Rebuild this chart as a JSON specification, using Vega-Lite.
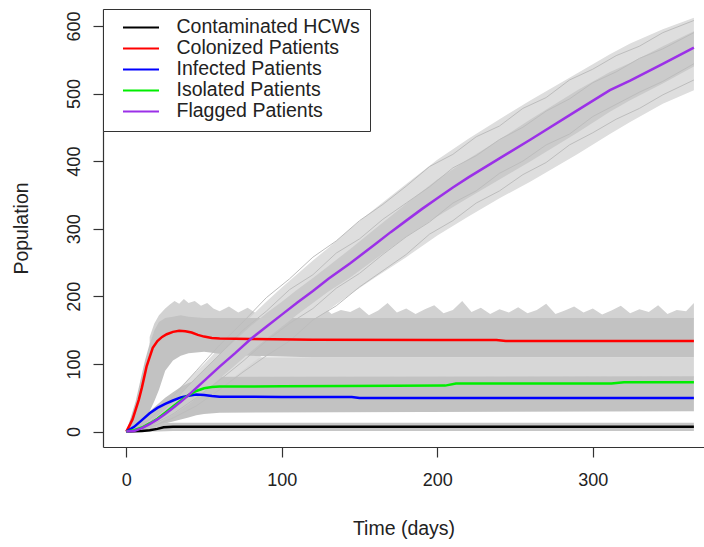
{
"$schema":"https://vega.github.io/schema/vega-lite/v6.json",
"width":601,"height":438,
"autosize":{"type":"none"},
"padding":{"left":103,"top":9,"right":0,"bottom":100},
"background":"white",
"config":{
 "font":"Liberation Sans",
 "view":{"stroke":null},
 "axis":{"grid":false,"domain":true,"domainColor":"#333","domainWidth":1.2,"tickColor":"#333","tickWidth":1.2,"tickSize":10,"labelFont":"Liberation Sans","labelFontSize":18,"labelColor":"#222","titleFont":"Liberation Sans","titleFontSize":19.5,"titleFontWeight":"normal","titleColor":"#222"},
 "axisX":{"labelPadding":14,"titlePadding":30},
 "axisY":{"labelAngle":-90,"labelAlign":"center","labelBaseline":"bottom","labelPadding":10,"titlePadding":34}
},
"datasets":{
"bands":[
{"b":"mid","t":50,"lo":80,"hi":84},{"b":"mid","t":60,"lo":80,"hi":104},{"b":"mid","t":70,"lo":80,"hi":110},{"b":"mid","t":365,"lo":80,"hi":110},
{"b":"colOuter","t":15,"lo":128,"hi":140},{"b":"colOuter","t":18,"lo":148,"hi":160},{"b":"colOuter","t":21,"lo":160,"hi":172},{"b":"colOuter","t":25,"lo":166,"hi":182},{"b":"colOuter","t":28,"lo":166,"hi":188},{"b":"colOuter","t":31,"lo":166,"hi":193},{"b":"colOuter","t":34,"lo":166,"hi":189},{"b":"colOuter","t":37,"lo":166,"hi":196},{"b":"colOuter","t":40,"lo":166,"hi":190},{"b":"colOuter","t":44,"lo":166,"hi":193},{"b":"colOuter","t":48,"lo":166,"hi":186},{"b":"colOuter","t":52,"lo":166,"hi":190},{"b":"colOuter","t":56,"lo":166,"hi":182},
{"b":"colOuter","t":60,"lo":166,"hi":178},{"b":"colOuter","t":66,"lo":166,"hi":185},{"b":"colOuter","t":72,"lo":166,"hi":176},{"b":"colOuter","t":78,"lo":166,"hi":183},{"b":"colOuter","t":84,"lo":166,"hi":174},{"b":"colOuter","t":90,"lo":166,"hi":180},{"b":"colOuter","t":96,"lo":166,"hi":188},{"b":"colOuter","t":102,"lo":166,"hi":175},{"b":"colOuter","t":108,"lo":166,"hi":181},{"b":"colOuter","t":114,"lo":166,"hi":173},{"b":"colOuter","t":120,"lo":166,"hi":179},{"b":"colOuter","t":126,"lo":166,"hi":186},{"b":"colOuter","t":132,"lo":166,"hi":174},{"b":"colOuter","t":138,"lo":166,"hi":180},{"b":"colOuter","t":144,"lo":166,"hi":177},{"b":"colOuter","t":150,"lo":166,"hi":184},{"b":"colOuter","t":156,"lo":166,"hi":172},{"b":"colOuter","t":162,"lo":166,"hi":179},{"b":"colOuter","t":168,"lo":166,"hi":190},{"b":"colOuter","t":174,"lo":166,"hi":176},{"b":"colOuter","t":180,"lo":166,"hi":182},{"b":"colOuter","t":186,"lo":166,"hi":174},{"b":"colOuter","t":192,"lo":166,"hi":181},{"b":"colOuter","t":198,"lo":166,"hi":187},{"b":"colOuter","t":204,"lo":166,"hi":175},{"b":"colOuter","t":210,"lo":166,"hi":180},{"b":"colOuter","t":216,"lo":166,"hi":193},{"b":"colOuter","t":222,"lo":166,"hi":177},{"b":"colOuter","t":228,"lo":166,"hi":183},{"b":"colOuter","t":234,"lo":166,"hi":174},{"b":"colOuter","t":240,"lo":166,"hi":181},{"b":"colOuter","t":246,"lo":166,"hi":176},{"b":"colOuter","t":252,"lo":166,"hi":184},{"b":"colOuter","t":258,"lo":166,"hi":175},{"b":"colOuter","t":264,"lo":166,"hi":180},{"b":"colOuter","t":270,"lo":166,"hi":189},{"b":"colOuter","t":276,"lo":166,"hi":174},{"b":"colOuter","t":282,"lo":166,"hi":179},{"b":"colOuter","t":288,"lo":166,"hi":185},{"b":"colOuter","t":294,"lo":166,"hi":176},{"b":"colOuter","t":300,"lo":166,"hi":182},{"b":"colOuter","t":306,"lo":166,"hi":173},{"b":"colOuter","t":312,"lo":166,"hi":179},{"b":"colOuter","t":318,"lo":166,"hi":186},{"b":"colOuter","t":324,"lo":166,"hi":175},{"b":"colOuter","t":330,"lo":166,"hi":181},{"b":"colOuter","t":336,"lo":166,"hi":177},{"b":"colOuter","t":342,"lo":166,"hi":187},{"b":"colOuter","t":348,"lo":166,"hi":174},{"b":"colOuter","t":354,"lo":166,"hi":180},{"b":"colOuter","t":360,"lo":166,"hi":178},{"b":"colOuter","t":365,"lo":166,"hi":190},
{"b":"flagOuter","t":0,"lo":0,"hi":0},{"b":"flagOuter","t":10,"lo":1,"hi":12},{"b":"flagOuter","t":20,"lo":8,"hi":32},{"b":"flagOuter","t":30,"lo":18,"hi":55},{"b":"flagOuter","t":40,"lo":28,"hi":78},{"b":"flagOuter","t":50,"lo":45,"hi":100},{"b":"flagOuter","t":60,"lo":63,"hi":124},{"b":"flagOuter","t":70,"lo":82,"hi":148},{"b":"flagOuter","t":80,"lo":100,"hi":170},{"b":"flagOuter","t":90,"lo":117,"hi":192},{"b":"flagOuter","t":100,"lo":133,"hi":213},{"b":"flagOuter","t":110,"lo":150,"hi":233},{"b":"flagOuter","t":120,"lo":165,"hi":253},{"b":"flagOuter","t":130,"lo":180,"hi":272},{"b":"flagOuter","t":144,"lo":203,"hi":300},{"b":"flagOuter","t":160,"lo":228,"hi":330},{"b":"flagOuter","t":180,"lo":258,"hi":366},{"b":"flagOuter","t":200,"lo":290,"hi":402},{"b":"flagOuter","t":220,"lo":318,"hi":433},{"b":"flagOuter","t":240,"lo":345,"hi":462},{"b":"flagOuter","t":260,"lo":370,"hi":490},{"b":"flagOuter","t":290,"lo":410,"hi":530},{"b":"flagOuter","t":311,"lo":440,"hi":558},{"b":"flagOuter","t":324,"lo":458,"hi":574},{"b":"flagOuter","t":345,"lo":485,"hi":595},{"b":"flagOuter","t":365,"lo":505,"hi":612},
{"b":"colCore","t":0,"lo":0,"hi":0},{"b":"colCore","t":3,"lo":1,"hi":22},{"b":"colCore","t":6,"lo":4,"hi":45},{"b":"colCore","t":9,"lo":10,"hi":75},{"b":"colCore","t":12,"lo":18,"hi":105},{"b":"colCore","t":15,"lo":30,"hi":130},{"b":"colCore","t":18,"lo":45,"hi":150},{"b":"colCore","t":21,"lo":62,"hi":162},{"b":"colCore","t":25,"lo":90,"hi":168},{"b":"colCore","t":30,"lo":105,"hi":170},{"b":"colCore","t":35,"lo":112,"hi":172},{"b":"colCore","t":40,"lo":116,"hi":170},{"b":"colCore","t":50,"lo":118,"hi":168},{"b":"colCore","t":60,"lo":115,"hi":168},{"b":"colCore","t":80,"lo":112,"hi":168},{"b":"colCore","t":120,"lo":110,"hi":168},{"b":"colCore","t":365,"lo":110,"hi":168},
{"b":"inf","t":0,"lo":0,"hi":0},{"b":"inf","t":5,"lo":1,"hi":10},{"b":"inf","t":10,"lo":3,"hi":20},{"b":"inf","t":15,"lo":6,"hi":30},{"b":"inf","t":20,"lo":9,"hi":40},{"b":"inf","t":25,"lo":12,"hi":50},{"b":"inf","t":30,"lo":15,"hi":58},{"b":"inf","t":35,"lo":18,"hi":66},{"b":"inf","t":40,"lo":21,"hi":72},{"b":"inf","t":45,"lo":24,"hi":76},{"b":"inf","t":50,"lo":26,"hi":79},{"b":"inf","t":60,"lo":28,"hi":81},{"b":"inf","t":365,"lo":30,"hi":82},
{"b":"hcw","t":0,"lo":0,"hi":0},{"b":"hcw","t":10,"lo":0,"hi":8},{"b":"hcw","t":20,"lo":0,"hi":12},{"b":"hcw","t":30,"lo":1,"hi":13},{"b":"hcw","t":365,"lo":1,"hi":13},
{"b":"flagInner","t":0,"lo":0,"hi":0},{"b":"flagInner","t":10,"lo":3,"hi":8},{"b":"flagInner","t":20,"lo":12,"hi":25},{"b":"flagInner","t":30,"lo":25,"hi":45},{"b":"flagInner","t":40,"lo":40,"hi":68},{"b":"flagInner","t":50,"lo":58,"hi":92},{"b":"flagInner","t":60,"lo":78,"hi":114},{"b":"flagInner","t":70,"lo":98,"hi":135},{"b":"flagInner","t":80,"lo":118,"hi":156},{"b":"flagInner","t":90,"lo":137,"hi":175},{"b":"flagInner","t":100,"lo":155,"hi":192},{"b":"flagInner","t":110,"lo":173,"hi":210},{"b":"flagInner","t":120,"lo":190,"hi":227},{"b":"flagInner","t":130,"lo":207,"hi":245},{"b":"flagInner","t":144,"lo":228,"hi":270},{"b":"flagInner","t":160,"lo":255,"hi":300},{"b":"flagInner","t":180,"lo":288,"hi":337},{"b":"flagInner","t":200,"lo":318,"hi":373},{"b":"flagInner","t":220,"lo":346,"hi":403},{"b":"flagInner","t":240,"lo":373,"hi":432},{"b":"flagInner","t":260,"lo":400,"hi":462},{"b":"flagInner","t":290,"lo":442,"hi":505},{"b":"flagInner","t":311,"lo":473,"hi":532},{"b":"flagInner","t":324,"lo":490,"hi":545},{"b":"flagInner","t":345,"lo":515,"hi":570},{"b":"flagInner","t":365,"lo":540,"hi":592}
],
"runs":[
{"r":"U1","t":0,"v":0},{"r":"U1","t":15,"v":18},{"r":"U1","t":30,"v":52},{"r":"U1","t":45,"v":90},{"r":"U1","t":60,"v":128},{"r":"U1","t":75,"v":162},{"r":"U1","t":90,"v":198},{"r":"U1","t":105,"v":226},{"r":"U1","t":120,"v":258},{"r":"U1","t":135,"v":282},{"r":"U1","t":150,"v":312},{"r":"U1","t":165,"v":336},{"r":"U1","t":180,"v":363},{"r":"U1","t":195,"v":392},{"r":"U1","t":210,"v":410},{"r":"U1","t":225,"v":436},{"r":"U1","t":240,"v":452},{"r":"U1","t":255,"v":478},{"r":"U1","t":270,"v":494},{"r":"U1","t":285,"v":520},{"r":"U1","t":300,"v":536},{"r":"U1","t":315,"v":556},{"r":"U1","t":330,"v":570},{"r":"U1","t":345,"v":590},{"r":"U1","t":365,"v":608},
{"r":"U2","t":0,"v":0},{"r":"U2","t":15,"v":14},{"r":"U2","t":30,"v":44},{"r":"U2","t":45,"v":80},{"r":"U2","t":60,"v":114},{"r":"U2","t":75,"v":150},{"r":"U2","t":90,"v":178},{"r":"U2","t":105,"v":210},{"r":"U2","t":120,"v":232},{"r":"U2","t":135,"v":264},{"r":"U2","t":150,"v":285},{"r":"U2","t":165,"v":314},{"r":"U2","t":180,"v":338},{"r":"U2","t":195,"v":362},{"r":"U2","t":210,"v":390},{"r":"U2","t":225,"v":408},{"r":"U2","t":240,"v":432},{"r":"U2","t":255,"v":450},{"r":"U2","t":270,"v":474},{"r":"U2","t":285,"v":492},{"r":"U2","t":300,"v":516},{"r":"U2","t":315,"v":532},{"r":"U2","t":330,"v":552},{"r":"U2","t":345,"v":566},{"r":"U2","t":365,"v":590},
{"r":"L1","t":0,"v":0},{"r":"L1","t":15,"v":6},{"r":"L1","t":30,"v":20},{"r":"L1","t":45,"v":38},{"r":"L1","t":60,"v":62},{"r":"L1","t":75,"v":88},{"r":"L1","t":90,"v":112},{"r":"L1","t":105,"v":134},{"r":"L1","t":120,"v":165},{"r":"L1","t":135,"v":186},{"r":"L1","t":150,"v":214},{"r":"L1","t":165,"v":238},{"r":"L1","t":180,"v":262},{"r":"L1","t":195,"v":292},{"r":"L1","t":210,"v":312},{"r":"L1","t":225,"v":338},{"r":"L1","t":240,"v":356},{"r":"L1","t":255,"v":380},{"r":"L1","t":270,"v":398},{"r":"L1","t":285,"v":424},{"r":"L1","t":300,"v":442},{"r":"L1","t":315,"v":462},{"r":"L1","t":330,"v":478},{"r":"L1","t":345,"v":498},{"r":"L1","t":365,"v":520},
{"r":"L2","t":0,"v":0},{"r":"L2","t":15,"v":8},{"r":"L2","t":30,"v":26},{"r":"L2","t":45,"v":50},{"r":"L2","t":60,"v":76},{"r":"L2","t":75,"v":104},{"r":"L2","t":90,"v":134},{"r":"L2","t":105,"v":160},{"r":"L2","t":120,"v":182},{"r":"L2","t":135,"v":212},{"r":"L2","t":150,"v":234},{"r":"L2","t":165,"v":262},{"r":"L2","t":180,"v":288},{"r":"L2","t":195,"v":310},{"r":"L2","t":210,"v":338},{"r":"L2","t":225,"v":356},{"r":"L2","t":240,"v":382},{"r":"L2","t":255,"v":400},{"r":"L2","t":270,"v":424},{"r":"L2","t":285,"v":440},{"r":"L2","t":300,"v":466},{"r":"L2","t":315,"v":484},{"r":"L2","t":330,"v":502},{"r":"L2","t":345,"v":518},{"r":"L2","t":365,"v":544}
],
"means":[
{"s":"Contaminated HCWs","t":0,"v":0},{"s":"Contaminated HCWs","t":10,"v":1},{"s":"Contaminated HCWs","t":15,"v":2},{"s":"Contaminated HCWs","t":20,"v":4},{"s":"Contaminated HCWs","t":24,"v":6.5},{"s":"Contaminated HCWs","t":30,"v":7},{"s":"Contaminated HCWs","t":100,"v":7},{"s":"Contaminated HCWs","t":200,"v":7},{"s":"Contaminated HCWs","t":365,"v":7},
{"s":"Colonized Patients","t":0,"v":0},{"s":"Colonized Patients","t":4,"v":18},{"s":"Colonized Patients","t":8,"v":47},{"s":"Colonized Patients","t":10,"v":65},{"s":"Colonized Patients","t":13,"v":96},{"s":"Colonized Patients","t":15,"v":110},{"s":"Colonized Patients","t":17,"v":124},{"s":"Colonized Patients","t":20,"v":134},{"s":"Colonized Patients","t":23,"v":140},{"s":"Colonized Patients","t":26,"v":144},{"s":"Colonized Patients","t":30,"v":147.5},{"s":"Colonized Patients","t":34,"v":149},{"s":"Colonized Patients","t":38,"v":148.5},{"s":"Colonized Patients","t":42,"v":146.5},{"s":"Colonized Patients","t":46,"v":143},{"s":"Colonized Patients","t":50,"v":140.5},{"s":"Colonized Patients","t":55,"v":138.5},{"s":"Colonized Patients","t":60,"v":137.5},{"s":"Colonized Patients","t":80,"v":137},{"s":"Colonized Patients","t":120,"v":136},{"s":"Colonized Patients","t":200,"v":135.5},{"s":"Colonized Patients","t":238,"v":135.5},{"s":"Colonized Patients","t":244,"v":134},{"s":"Colonized Patients","t":365,"v":134},
{"s":"Infected Patients","t":0,"v":0},{"s":"Infected Patients","t":5,"v":7},{"s":"Infected Patients","t":10,"v":17},{"s":"Infected Patients","t":15,"v":27},{"s":"Infected Patients","t":20,"v":35},{"s":"Infected Patients","t":25,"v":41},{"s":"Infected Patients","t":30,"v":46},{"s":"Infected Patients","t":35,"v":50.5},{"s":"Infected Patients","t":40,"v":53},{"s":"Infected Patients","t":45,"v":54.7},{"s":"Infected Patients","t":50,"v":54},{"s":"Infected Patients","t":55,"v":52.5},{"s":"Infected Patients","t":60,"v":51.5},{"s":"Infected Patients","t":100,"v":51.3},{"s":"Infected Patients","t":145,"v":51},{"s":"Infected Patients","t":150,"v":49.7},{"s":"Infected Patients","t":365,"v":49.7},
{"s":"Isolated Patients","t":0,"v":0},{"s":"Isolated Patients","t":5,"v":2},{"s":"Isolated Patients","t":10,"v":6},{"s":"Isolated Patients","t":15,"v":12},{"s":"Isolated Patients","t":20,"v":19},{"s":"Isolated Patients","t":25,"v":28},{"s":"Isolated Patients","t":30,"v":37},{"s":"Isolated Patients","t":35,"v":46},{"s":"Isolated Patients","t":40,"v":54},{"s":"Isolated Patients","t":45,"v":60},{"s":"Isolated Patients","t":50,"v":64},{"s":"Isolated Patients","t":55,"v":66},{"s":"Isolated Patients","t":60,"v":66.5},{"s":"Isolated Patients","t":100,"v":67},{"s":"Isolated Patients","t":140,"v":67.5},{"s":"Isolated Patients","t":205,"v":68},{"s":"Isolated Patients","t":212,"v":71},{"s":"Isolated Patients","t":312,"v":71},{"s":"Isolated Patients","t":320,"v":73},{"s":"Isolated Patients","t":365,"v":73},
{"s":"Flagged Patients","t":0,"v":0},{"s":"Flagged Patients","t":5,"v":1},{"s":"Flagged Patients","t":10,"v":5},{"s":"Flagged Patients","t":15,"v":11},{"s":"Flagged Patients","t":20,"v":18},{"s":"Flagged Patients","t":25,"v":26},{"s":"Flagged Patients","t":30,"v":35},{"s":"Flagged Patients","t":35,"v":44},{"s":"Flagged Patients","t":40,"v":54},{"s":"Flagged Patients","t":50,"v":75},{"s":"Flagged Patients","t":60,"v":96},{"s":"Flagged Patients","t":70,"v":116},{"s":"Flagged Patients","t":80,"v":137},{"s":"Flagged Patients","t":90,"v":155},{"s":"Flagged Patients","t":100,"v":173},{"s":"Flagged Patients","t":110,"v":191},{"s":"Flagged Patients","t":120,"v":208},{"s":"Flagged Patients","t":130,"v":226},{"s":"Flagged Patients","t":144,"v":249},{"s":"Flagged Patients","t":160,"v":277},{"s":"Flagged Patients","t":170,"v":295},{"s":"Flagged Patients","t":180,"v":312},{"s":"Flagged Patients","t":190,"v":329},{"s":"Flagged Patients","t":200,"v":345},{"s":"Flagged Patients","t":210,"v":361},{"s":"Flagged Patients","t":220,"v":376},{"s":"Flagged Patients","t":240,"v":404},{"s":"Flagged Patients","t":260,"v":432},{"s":"Flagged Patients","t":290,"v":475},{"s":"Flagged Patients","t":311,"v":505},{"s":"Flagged Patients","t":324,"v":519},{"s":"Flagged Patients","t":345,"v":544},{"s":"Flagged Patients","t":365,"v":568}
]},
"encoding":{
 "x":{"field":"t","type":"quantitative","scale":{"domain":[-15,371.5],"nice":false,"zero":false},"axis":{"values":[0,100,200,300],"title":"Time (days)"}},
 "y":{"field":"lo","type":"quantitative","scale":{"domain":[-22.8,625],"nice":false,"zero":false},"axis":{"values":[0,100,200,300,400,500,600],"title":"Population"}}
},
"layer":[
 {"data":{"name":"bands"},"transform":[{"filter":"datum.b==='mid'"}],"mark":{"type":"area","color":"#d7d7d7","clip":true},"encoding":{"y2":{"field":"hi"}}},
 {"data":{"name":"bands"},"transform":[{"filter":"datum.b==='colOuter'"}],"mark":{"type":"area","color":"#d2d2d2","clip":true},"encoding":{"y2":{"field":"hi"}}},
 {"data":{"name":"bands"},"transform":[{"filter":"datum.b==='flagOuter'"}],"mark":{"type":"area","color":"#dedede","clip":true},"encoding":{"y2":{"field":"hi"}}},
 {"data":{"name":"bands"},"transform":[{"filter":"datum.b==='colCore'"}],"mark":{"type":"area","color":"#c2c2c2","clip":true},"encoding":{"y2":{"field":"hi"}}},
 {"data":{"name":"bands"},"transform":[{"filter":"datum.b==='inf'"}],"mark":{"type":"area","color":"#c2c2c2","clip":true},"encoding":{"y2":{"field":"hi"}}},
 {"data":{"name":"bands"},"transform":[{"filter":"datum.b==='hcw'"}],"mark":{"type":"area","color":"#c6c6c6","clip":true},"encoding":{"y2":{"field":"hi"}}},
 {"data":{"name":"bands"},"transform":[{"filter":"datum.b==='flagInner'"}],"mark":{"type":"area","color":"#cbcbcb","clip":true},"encoding":{"y2":{"field":"hi"}}},
 {"data":{"name":"runs"},"mark":{"type":"line","color":"#bdbdbd","strokeWidth":1,"clip":true},
  "encoding":{"y":{"field":"v","type":"quantitative","scale":{"domain":[-22.8,625],"nice":false,"zero":false},"axis":{"values":[0,100,200,300,400,500,600],"title":"Population"}},"detail":{"field":"r"}}},
 {"data":{"name":"means"},"mark":{"type":"line","strokeWidth":2.5,"clip":true},
  "encoding":{
   "y":{"field":"v","type":"quantitative","scale":{"domain":[-22.8,625],"nice":false,"zero":false},"axis":{"values":[0,100,200,300,400,500,600],"title":"Population"}},
   "stroke":{"field":"s","type":"nominal","sort":null,
     "scale":{"domain":["Contaminated HCWs","Colonized Patients","Infected Patients","Isolated Patients","Flagged Patients"],"range":["#000000","#ff0000","#0000ff","#00ee00","#9b30e8"]},
     "legend":{"title":null,"orient":"none","legendX":0,"legendY":0,"symbolType":"stroke","symbolSize":1296,"symbolStrokeWidth":2,"labelFontSize":19.5,"labelFont":"Liberation Sans","labelColor":"#222","padding":9.5,"symbolOffset":9.5,"labelOffset":16.5,"strokeColor":"#333","fillColor":"white","rowPadding":0,"clipHeight":17.9,"labelLimit":400}}
  }},
 {"data":{"values":[{}]},"mark":{"type":"rule","color":"#333","strokeWidth":1.2},"encoding":{"x":{"datum":-15},"x2":{"datum":371.5},"y":{"datum":625}}}
]
}
